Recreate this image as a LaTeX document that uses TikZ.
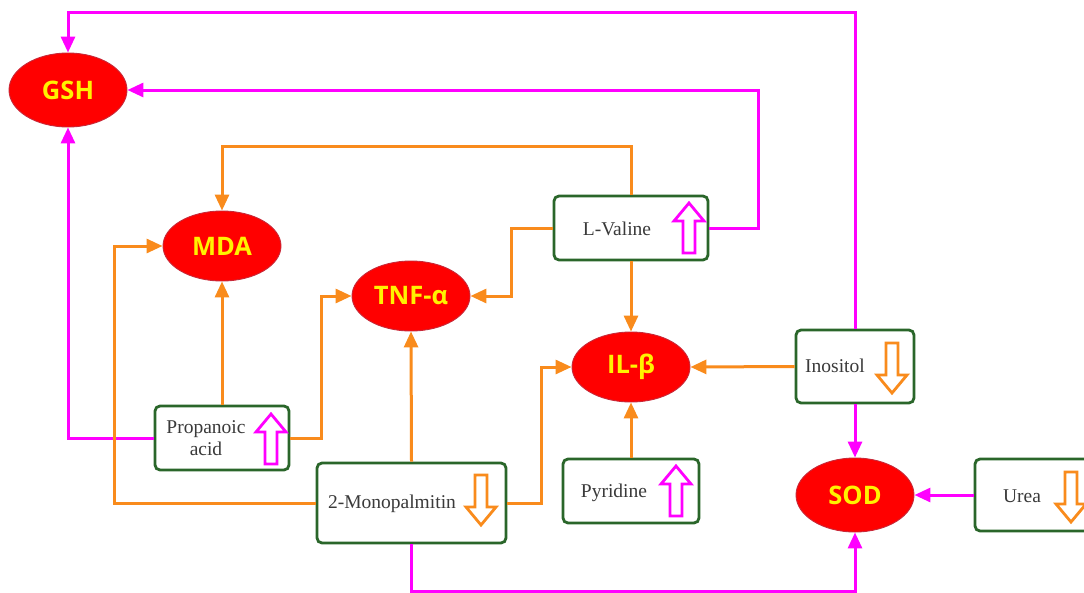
\documentclass[tikz,border=0pt]{standalone}
\usepackage{fontspec}
\setmainfont{Liberation Serif}
\newfontfamily\labelfont{Open Sans}
\usetikzlibrary{shapes.geometric,arrows.meta}
\definecolor{mag}{HTML}{FF00FF}
\definecolor{org}{HTML}{F98B1C}
\definecolor{boxgreen}{HTML}{2A662A}
\definecolor{redfill}{HTML}{FF0000}
\definecolor{redline}{HTML}{C82838}
\definecolor{txtgray}{HTML}{3A3A3A}
\tikzset{
  marker/.style={ellipse, fill=redfill, draw=redline, line width=0.9pt,
    minimum width=118pt, minimum height=70pt, inner sep=0pt,
    text=yellow, font=\labelfont\bfseries\fontsize{25.5}{27}\selectfont},
  metab/.style={draw=boxgreen, line width=2.8pt, rounded corners=5pt, fill=white,
    inner sep=0pt},
  mtext/.style={text=txtgray, font=\fontsize{19.5}{21.5}\selectfont, align=center, inner sep=0pt},
  link/.style={line width=3pt, -{Triangle[length=16pt,width=14pt]}},
  up/.style={link, mag},
  down/.style={link, org},
  blkup/.pic={\draw[line width=2.8pt, fill=white, line join=miter]
      (0,-25) -- (15,-7) -- (6,-7) -- (6,25) -- (-6,25) -- (-6,-7) -- (-15,-7) -- cycle;},
  blkdown/.pic={\draw[line width=2.8pt, fill=white, line join=miter]
      (0,25) -- (15,7) -- (6,7) -- (6,-25) -- (-6,-25) -- (-6,7) -- (-15,7) -- cycle;}
}
\begin{document}
\begin{tikzpicture}[x=1pt, y=-1pt]
\clip (0,0) rectangle (1084,592);
\fill[white] (0,0) rectangle (1084,592);

% markers
\node[marker, minimum height=74pt] (gsh) at (68,90) {GSH};
\node[marker] (mda) at (222,246) {MDA};
\node[marker] (tnf) at (411,296) {TNF-α};
\node[marker] (il) at (631,367) {IL-β};
\node[marker, minimum height=74pt] (sod) at (855,495) {SOD};

% metabolites
\node[metab, minimum width=134pt, minimum height=64pt] (prop) at (222,438) {};
\node[metab, minimum width=189pt, minimum height=80pt] (mono) at (411.5,503) {};
\node[metab, minimum width=154pt, minimum height=64pt] (val) at (631,228) {};
\node[metab, minimum width=118pt, minimum height=73pt] (ino) at (855,366.5) {};
\node[metab, minimum width=136pt, minimum height=64pt] (pyr) at (631,491) {};
\node[metab, minimum width=120pt, minimum height=72pt] (urea) at (1035,495) {};

\node[mtext] (proptxt) at (206,438) {Propanoic\\acid};
\node[mtext] (monotxt) at (392,504) {2-Monopalmitin};
\node[mtext] (valtxt) at (617,229) {L-Valine};
\node[mtext] (inotxt) at (835,366) {Inositol};
\node[mtext] (pyrtxt) at (614,493) {Pyridine};
\node[mtext] (ureatxt) at (1022,496) {Urea};

% trend arrows
\pic[color=mag] at (271,439) {blkup};
\pic[color=mag] at (689,228) {blkup};
\pic[color=mag] at (676,491) {blkup};
\pic[color=org] at (481,500) {blkdown};
\pic[color=org] at (892,368) {blkdown};
\pic[color=org] at (1071,497) {blkdown};

% magenta links
\draw[up] (ino.north) -- ++(0,-316) -| (gsh.north);
\draw[up] (val.east) -- ++(49,0) |- (gsh.east);
\draw[up] (prop.west) -| (gsh.south);
\draw[up] (ino.south) -- (sod.north);
\draw[up] (urea.west) -- (sod.east);
\draw[up] (mono.south) -- ++(0,47) -| (sod.south);

% orange links
\draw[down] (val.north) -- ++(0,-48) -| (mda.north);
\draw[down] (val.west) -- ++(-41,0) |- (tnf.east);
\draw[down] (val.south) -- (il.north);
\draw[down] (prop.north) -- (mda.south);
\draw[down] (prop.east) -- ++(31,0) |- (tnf.west);
\draw[down] (mono.north) -- (tnf.south);
\draw[down] (mono.west) -- ++(-201,0) |- (mda.west);
\draw[down] (mono.east) -- ++(34,0) |- (il.west);
\draw[down] (pyr.north) -- (il.south);
\draw[down] (ino.west) -- (il.east);
\end{tikzpicture}
\end{document}
